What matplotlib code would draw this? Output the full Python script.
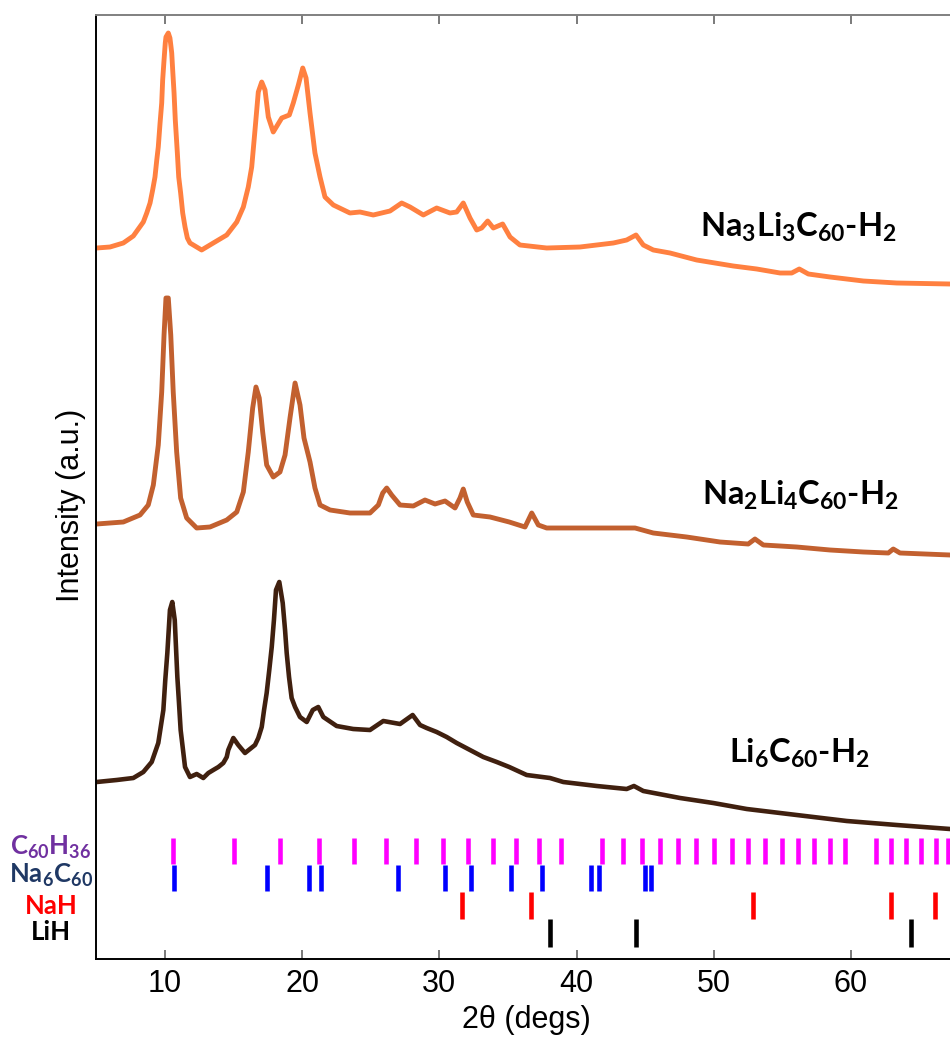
import matplotlib
matplotlib.use("Agg")
import matplotlib.pyplot as plt

plt.rcParams["mathtext.fontset"] = "custom"
plt.rcParams["mathtext.rm"] = "Lato:bold"
plt.rcParams["mathtext.it"] = "Lato:bold"
plt.rcParams["mathtext.bf"] = "Lato:bold"

# ---- diffraction patterns (2theta in degrees, stacked intensity in a.u.) ----
tt_na3li3 = [5.02, 5.99, 6.96, 7.69, 8.42, 8.67, 8.91, 9.10, 9.27, 9.40, 9.51, 9.64,
             9.76, 9.83, 9.93, 10.02, 10.07, 10.24, 10.36, 10.44, 10.49, 10.56, 10.66,
             10.75, 10.90, 11.00, 11.14, 11.29, 11.46, 11.63, 11.82, 12.67, 13.52, 14.50,
             15.23, 15.71, 16.07, 16.32, 16.56, 16.80, 17.05, 17.29, 17.53, 17.89, 18.51,
             19.06, 19.35, 19.72, 20.04, 20.28, 20.57, 20.93, 21.30, 21.66, 22.27, 23.48,
             24.21, 25.18, 26.40, 27.25, 27.86, 28.83, 29.80, 30.77, 31.26, 31.74, 32.23,
             32.72, 33.08, 33.52, 33.93, 34.61, 35.15, 35.87, 37.82, 40.25, 42.68, 43.65,
             44.33, 44.86, 45.59, 46.81, 48.75, 51.42, 53.13, 54.83, 55.68, 56.23, 56.89,
             58.47, 60.90, 63.33, 67.22]
int_na3li3 = [711, 712, 716, 723, 737, 746, 756, 769, 782, 799, 812, 836,
              856, 879, 899, 916, 922, 926, 921, 912, 906, 889, 866,
              839, 806, 782, 766, 746, 732, 721, 716, 709, 716, 724,
              737, 752, 772, 792, 829, 867, 877, 869, 842, 827, 841,
              844, 856, 874, 891, 881, 846, 806, 782, 762, 754, 746,
              747, 744, 748, 756, 752, 744, 751, 746, 747, 756, 741,
              729, 731, 738, 731, 735, 722, 714, 711, 712, 716, 719,
              724, 714, 709, 706, 699, 693, 690, 686, 686, 690, 685,
              682, 678, 676, 675]

tt_na2li4 = [5.02, 6.96, 8.18, 8.78, 9.15, 9.51, 9.76, 9.93, 10.07, 10.24, 10.42, 10.60,
             10.85, 11.14, 11.58, 12.31, 13.28, 14.50, 15.23, 15.71, 16.07, 16.39, 16.63,
             16.87, 17.12, 17.41, 17.89, 18.38, 18.75, 19.11, 19.48, 19.84, 20.13, 20.57,
             20.93, 21.30, 22.03, 23.48, 24.94, 25.55, 25.87, 26.16, 26.52, 27.13, 28.10,
             28.95, 29.68, 30.41, 31.14, 31.50, 31.74, 32.03, 32.47, 33.69, 35.09, 36.24,
             36.73, 37.21, 37.82, 40.25, 43.16, 44.26, 45.59, 48.02, 50.45, 52.51, 53.00,
             53.61, 56.04, 58.47, 60.90, 62.72, 63.08, 63.57, 67.22]
int_na2li4 = [435, 437, 444, 454, 474, 514, 567, 624, 661, 661, 624, 567,
              507, 461, 441, 431, 432, 439, 447, 467, 507, 551, 572,
              561, 527, 494, 482, 487, 504, 541, 576, 554, 521, 497,
              471, 454, 449, 446, 446, 454, 466, 471, 464, 454, 453,
              459, 455, 458, 451, 461, 470, 457, 444, 442, 437, 432,
              446, 434, 431, 431, 431, 431, 426, 422, 417, 415, 420,
              414, 412, 409, 407, 406, 410, 406, 404]

tt_li6 = [5.02, 6.48, 7.69, 8.42, 9.03, 9.51, 9.88, 10.02, 10.17, 10.36, 10.53, 10.71,
          10.80, 10.90, 11.02, 11.14, 11.46, 11.82, 12.31, 12.79, 13.16, 13.52, 13.89,
          14.25, 14.50, 14.61, 14.98, 15.34, 15.83, 16.56, 16.80, 17.05, 17.22, 17.41,
          17.60, 17.78, 17.94, 18.09, 18.33, 18.58, 18.75, 18.87, 19.04, 19.23, 19.48,
          19.84, 20.33, 20.77, 21.17, 21.54, 22.51, 23.72, 24.94, 25.91, 27.13, 28.05,
          28.59, 29.07, 29.80, 30.53, 31.26, 32.23, 33.20, 34.18, 35.09, 36.36, 38.06,
          39.03, 41.47, 43.65, 44.18, 44.86, 47.54, 49.96, 52.40, 56.04, 59.69, 63.33,
          67.22]
int_li6 = [177, 179, 181, 187, 197, 216, 249, 279, 306, 349, 357, 339,
           312, 282, 256, 229, 192, 182, 185, 181, 186, 189, 192,
           196, 202, 209, 221, 214, 206, 214, 221, 232, 249, 266,
           289, 312, 339, 369, 377, 356, 329, 306, 282, 261, 252,
           242, 237, 249, 252, 242, 233, 230, 229, 238, 235, 244,
           234, 231, 227, 222, 216, 209, 202, 197, 192, 184, 181,
           177, 173, 170, 173, 168, 161, 156, 150, 144, 138, 134,
           130]

# ---- reference reflection positions (2theta, degrees) ----
refl_c60h36 = [10.58, 15.00, 18.36, 21.25, 23.80, 26.09, 28.27, 30.24, 32.11, 33.91,
               35.61, 37.26, 38.88, 41.85, 43.36, 44.77, 46.06, 47.39, 48.72, 50.04,
               51.30, 52.52, 53.73, 54.97, 56.14, 57.30, 58.47, 59.56, 61.84, 62.92,
               64.01, 65.10, 66.20, 67.10]
refl_na6c60 = [10.63, 17.41, 20.47, 21.35, 26.96, 30.39, 32.33, 35.24, 37.48, 41.05,
               41.61, 44.98, 45.42]
refl_nah = [31.65, 36.70, 52.86, 62.94, 66.12]
refl_lih = [38.06, 44.33, 64.37]

sample_names = ["Na$_3$Li$_3$C$_{60}$-H$_2$", "Na$_2$Li$_4$C$_{60}$-H$_2$", "Li$_6$C$_{60}$-H$_2$"]
phase_names = ["C$_{60}$H$_{36}$", "Na$_6$C$_{60}$", "NaH", "LiH"]
x_ticks = [10, 20, 30, 40, 50, 60]

W, H = 950, 1042
fig = plt.figure(figsize=(W / 100, H / 100), dpi=100)
ax = fig.add_axes([96.4 / W, 83 / H, 891.8 / W, 944 / H])
ax.set_xlim(5, 70)
ax.set_ylim(0, 944)

curve_colors = ["#FF8040", "#C2602F", "#40200F"]
ax.plot(tt_na3li3, int_na3li3, color=curve_colors[0], lw=3.5, solid_joinstyle="round")
ax.plot(tt_na2li4, int_na2li4, color=curve_colors[1], lw=3.5, solid_joinstyle="round")
ax.plot(tt_li6, int_li6, color=curve_colors[2], lw=3.3, solid_joinstyle="round")

# reflection markers, one row per phase
rows = [(refl_c60h36, "#FF00FF", 95, 121),
        (refl_na6c60, "#0000FF", 68, 94),
        (refl_nah, "#FF0000", 40, 67),
        (refl_lih, "#000000", 12, 40)]
for pos, col, lo, hi in rows:
    ax.vlines(pos, lo, hi, colors=col, lw=3.3)

ax.set_yticks([])
ax.set_xticks(x_ticks)
ax.tick_params(axis="x", direction="in", length=6.5, width=1.3, color="#707070",
               top=True, labelsize=22, pad=7)
for lab in ax.get_xticklabels():
    lab.set_fontfamily("Liberation Sans")
for side in ["left", "bottom"]:
    ax.spines[side].set_color("black")
    ax.spines[side].set_linewidth(1.4)
ax.spines["top"].set_color("#808080")
ax.spines["top"].set_linewidth(1.4)

fig.text(526 / W, 1 - 1028 / H, "2\u03b8 (degs)", ha="center", va="baseline",
         fontsize=22, family="Liberation Sans")
fig.text(71 / W, 1 - 505 / H, "Intensity (a.u.)", ha="center", va="center",
         rotation=90, fontsize=22, family="Liberation Sans")

# sample labels
for name, (x, y) in zip(sample_names, [(700, 237), (702, 505), (729, 763)]):
    fig.text(x / W, 1 - y / H, name, ha="left", va="baseline", fontsize=23.5,
             family="Lato", fontweight="bold", color="black")

# phase labels next to the marker rows
phase_colors = ["#7030A0", "#1F3864", "#FF0000", "#000000"]
for name, col, y in zip(phase_names, phase_colors, [855, 883, 914, 940]):
    fig.text(51 / W, 1 - y / H, name, ha="center", va="baseline", fontsize=18.5,
             family="Lato", fontweight="bold", color=col)

fig.savefig("out.png", dpi=100)
